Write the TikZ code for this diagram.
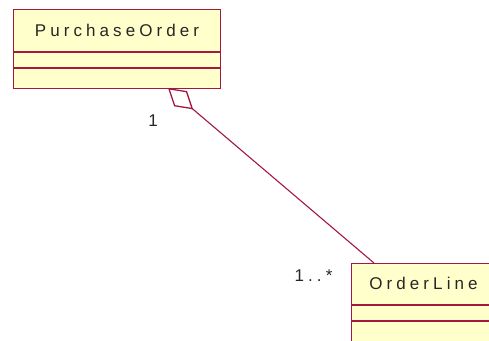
\documentclass[tikz,border=0pt]{standalone}
\usepackage{fontspec}
\setmainfont{Liberation Sans}
\newfontfamily\umlfont[LetterSpace=24]{Liberation Sans}
\usetikzlibrary{arrows.meta}
\definecolor{umlborder}{RGB}{164,24,64}
\definecolor{umlfill}{RGB}{255,255,204}
\tikzset{
  classbox/.style={draw=umlborder, fill=umlfill, line width=1.4pt, inner sep=0pt},
  sepline/.style={draw=umlborder, line width=1.4pt},
  umltext/.style={font=\umlfont\fontsize{17}{19}\selectfont, inner sep=0pt, text=black!85},
  assoc/.style={draw=umlborder, line width=1.1pt},
}
\begin{document}
\begin{tikzpicture}[x=1pt,y=-1pt]
\path[use as bounding box, fill=white] (0,0) rectangle (489,340);
\clip (0,0) rectangle (489,340);
% PurchaseOrder class
\node[classbox, anchor=north west, minimum width=207pt, minimum height=79pt] (po) at (13,9) {};
\node[umltext] (poname) at (117,30) {PurchaseOrder};
\draw[sepline] (13,52) -- (220,52);
\draw[sepline] (13,68) -- (220,68);
% OrderLine class
\node[classbox, anchor=north west, minimum width=160pt, minimum height=90pt] (ol) at (351,263) {};
\node[umltext] (olname) at (423.5,283) {OrderLine};
\draw[sepline] (351,305) -- (511,305);
\draw[sepline] (351,321) -- (511,321);
% aggregation
\coordinate (dtip) at (168,88);
\coordinate (olend) at (374,263);
\draw[assoc, {Diamond[open, length=33pt, width=20pt, line width=1.3pt]}-] (dtip) -- (olend);
% multiplicities
\node[umltext] (m1) at (153,121) {1};
\node[umltext] (m2) at (313.5,276) {1..*};
\end{tikzpicture}
\end{document}
